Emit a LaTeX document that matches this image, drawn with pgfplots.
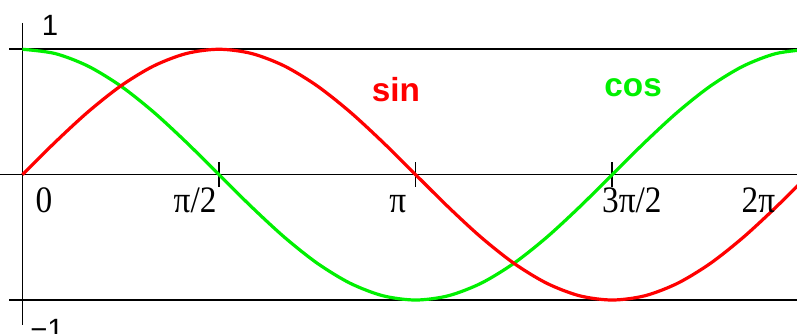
\documentclass[border=0pt]{standalone}
\usepackage{pgfplots}
\usepackage{pgfplotstable}
\usepackage{fontspec}
\setmainfont{Liberation Serif}
\setsansfont{Liberation Sans}
\pgfplotsset{compat=1.18}
\definecolor{myred}{RGB}{255,0,0}
\definecolor{mygreen}{RGB}{0,240,0}
\newcommand{\lab}[1]{\scalebox{1}[1.12]{\fontsize{25}{30}\selectfont #1}}
\pgfplotstableread{
x sin cos
0 0 1
0.2618 0.2588 0.9659
0.5236 0.5 0.8660
0.7854 0.7071 0.7071
1.0472 0.8660 0.5
1.3090 0.9659 0.2588
1.5708 1 0
1.8326 0.9659 -0.2588
2.0944 0.8660 -0.5
2.3562 0.7071 -0.7071
2.6180 0.5 -0.8660
2.8798 0.2588 -0.9659
3.1416 0 -1
3.4034 -0.2588 -0.9659
3.6652 -0.5 -0.8660
3.9270 -0.7071 -0.7071
4.1888 -0.8660 -0.5
4.4506 -0.9659 -0.2588
4.7124 -1 0
4.9742 -0.9659 0.2588
5.2360 -0.8660 0.5
5.4978 -0.7071 0.7071
5.7596 -0.5 0.8660
6.0214 -0.2588 0.9659
6.2832 0 1
}\trig
\begin{document}
\begin{tikzpicture}
\begin{axis}[
  scale only axis, width=597.75pt, height=250.5pt,
  xmin=-0.179, xmax=6.189, ymin=-1.271, ymax=1.393,
  hide axis, clip=true,
]
% reference lines
\addplot[black, line width=1.2pt] coordinates {(-0.105,1) (6.4,1)};
\addplot[black, line width=1.2pt] coordinates {(-0.105,-1) (6.4,-1)};
\addplot[black, line width=1.2pt] coordinates {(-0.2,0) (6.4,0)};
\addplot[black, line width=1.2pt] coordinates {(0,1.21) (0,-1.20)};
\addplot[black, line width=1.2pt] coordinates {(1.5708,0.10) (1.5708,-0.10)};
\addplot[black, line width=1.2pt] coordinates {(3.1416,0.10) (3.1416,-0.10)};
\addplot[black, line width=1.2pt] coordinates {(4.7124,0.10) (4.7124,-0.10)};
% curves
\addplot[mygreen, line width=2.4pt, smooth] table[x=x, y=cos] {\trig};
\addplot[myred, line width=2.4pt, smooth] table[x=x, y=sin] {\trig};
% labels
\node[anchor=base, inner sep=0pt] at (axis cs:0.173,-0.30) {\lab{0}};
\node[anchor=base, inner sep=0pt] at (axis cs:1.38,-0.30) {\lab{π/2}};
\node[anchor=base, inner sep=0pt] at (axis cs:2.999,-0.30) {\lab{π}};
\node[anchor=base, inner sep=0pt] at (axis cs:4.87,-0.30) {\lab{3π/2}};
\node[anchor=base, inner sep=0pt] at (axis cs:5.88,-0.30) {\lab{2π}};
\node[anchor=base, inner sep=0pt, font=\sffamily\fontsize{22}{26}\selectfont] at (axis cs:0.22,1.113) {1};
\node[anchor=base, inner sep=0pt, font=\sffamily\fontsize{22}{26}\selectfont] at (axis cs:0.197,-1.311) {−1};
\node[anchor=base, inner sep=0pt, text=myred, font=\sffamily\bfseries\fontsize{25}{30}\selectfont] at (axis cs:2.985,0.582) {sin};
\node[anchor=base, inner sep=0pt, text=mygreen, font=\sffamily\bfseries\fontsize{25}{30}\selectfont] at (axis cs:4.88,0.622) {cos};
\end{axis}
\pgfresetboundingbox
\path (current axis.south west) rectangle (current axis.north east);
\end{tikzpicture}
\end{document}
